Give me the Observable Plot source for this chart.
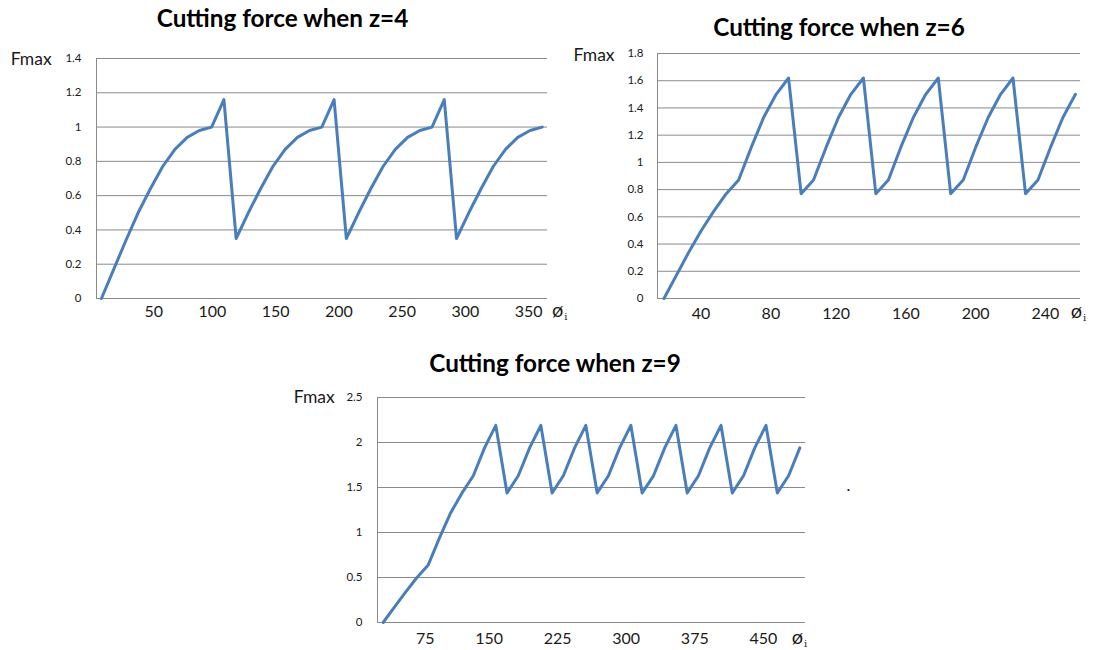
<!DOCTYPE html>
<html><head><meta charset="utf-8">
<script src="https://cdn.jsdelivr.net/npm/d3@7"></script>
<script src="https://cdn.jsdelivr.net/npm/@observablehq/plot@0.6"></script>
<style>
html,body{margin:0;padding:0;background:#fff;}
#root{position:relative;width:1094px;height:650px;overflow:hidden;font-family:Lato,"Open Sans",sans-serif;}
#root svg{position:absolute;}
.t{position:absolute;white-space:nowrap;line-height:1;}
.title{font-weight:bold;font-size:24.3px;color:#000;transform:translate(-50%,-50%);}
.fmax{font-size:17.5px;color:#1a1a1a;transform:translate(0,-50%);}
.phi{font-size:20px;color:#1a1a1a;transform:translate(0,-50%);}
.phi sub{font-family:"DejaVu Serif","Liberation Serif",serif;font-size:10px;vertical-align:-3px;margin-left:1px;}
</style></head><body><div id="root"></div>
<script>
// ---- data (x in axis units, F = Fmax) ----
const z4Phi = [1.3, 11.0, 20.7, 30.3, 40.0, 49.7, 59.4, 69.1, 78.7, 88.4, 98.1, 107.8, 117.4, 127.1, 136.8, 146.5, 156.2, 165.8, 175.5, 185.2, 194.9, 204.6, 214.2, 223.9, 233.6, 243.3, 253.0, 262.6, 272.3, 282.0, 291.7, 301.4, 311.0, 320.7, 330.4, 340.1, 349.7];
const z4F = [0, 0.17, 0.34, 0.5, 0.64, 0.77, 0.87, 0.94, 0.98, 1.0, 1.16,
  0.35, 0.5, 0.64, 0.77, 0.87, 0.94, 0.98, 1.0, 1.16,
  0.35, 0.5, 0.64, 0.77, 0.87, 0.94, 0.98, 1.0, 1.16,
  0.35, 0.5, 0.64, 0.77, 0.87, 0.94, 0.98, 1.0];
const z4XTicks = [50, 100, 150, 200, 250, 300, 350];
const z4YTicks = [0, 0.2, 0.4, 0.6, 0.8, 1, 1.2, 1.4];

const z6Phi = [13.4, 20.5, 27.6, 34.8, 41.9, 49.1, 56.2, 63.4, 70.5, 77.7, 84.8, 92.0, 99.1, 106.3, 113.4, 120.5, 127.7, 134.8, 142.0, 149.1, 156.3, 163.4, 170.6, 177.7, 184.9, 192.0, 199.2, 206.3, 213.4, 220.6, 227.7, 234.9, 242.0, 249.2];
const z6F = [0, 0.17, 0.34, 0.5, 0.64, 0.77, 0.87, 1.11, 1.33, 1.5, 1.62,
  0.77, 0.87, 1.11, 1.33, 1.5, 1.62,
  0.77, 0.87, 1.11, 1.33, 1.5, 1.62,
  0.77, 0.87, 1.11, 1.33, 1.5, 1.62,
  0.77, 0.87, 1.11, 1.33, 1.5];
const z6XTicks = [40, 80, 120, 160, 200, 240];
const z6YTicks = [0, 0.2, 0.4, 0.6, 0.8, 1, 1.2, 1.4, 1.6, 1.8];

const z9Phi = [18.9, 31.2, 43.6, 55.9, 68.2, 80.5, 92.8, 105.2, 117.5, 129.8, 142.1, 154.4, 166.7, 179.1, 191.4, 203.7, 216.0, 228.3, 240.6, 253.0, 265.3, 277.6, 289.9, 302.2, 314.6, 326.9, 339.2, 351.5, 363.8, 376.1, 388.5, 400.8, 413.1, 425.4, 437.7, 450.1, 462.4, 474.7];
const z9F = [0, 0.17, 0.34, 0.5, 0.64, 0.94, 1.22, 1.44, 1.63, 1.94, 2.19,
  1.44, 1.63, 1.94, 2.19,
  1.44, 1.63, 1.94, 2.19,
  1.44, 1.63, 1.94, 2.19,
  1.44, 1.63, 1.94, 2.19,
  1.44, 1.63, 1.94, 2.19,
  1.44, 1.63, 1.94, 2.19,
  1.44, 1.63, 1.94];
const z9XTicks = [75, 150, 225, 300, 375, 450];
const z9YTicks = [0, 0.5, 1, 1.5, 2, 2.5];

const titles = ["Cutting force when z=4", "Cutting force when z=6", "Cutting force when z=9"];
const yLabel = "Fmax";
const xLabel = "ø";
const xLabelSub = "i";

const LINE = "#4A7EBB", GRID = "#8a8a8a";

function chart(c) {
  const data = c.phi.map((x, i) => ({x, y: c.F[i]}));
  const svg = Plot.plot({
    width: c.w, height: c.h,
    marginLeft: c.ml, marginRight: c.mr, marginTop: c.mt, marginBottom: c.mb,
    x: {domain: c.xDomain},
    y: {domain: c.yDomain},
    style: {fontFamily: "Lato, 'Open Sans', sans-serif", background: "transparent", overflow: "visible"},
    marks: [
      Plot.gridY(c.yTicks, {stroke: GRID, strokeOpacity: 1, strokeWidth: 1}),
      Plot.ruleX([c.xDomain[0]], {stroke: GRID, strokeWidth: 1}),
      Plot.axisY(c.yTicks, {tickSize: 0, tickPadding: c.yPad, fontSize: 11.5, fill: "#1a1a1a", tickFormat: d => String(d), label: null}),
      Plot.axisX(c.xTicks, {tickSize: 0, tickPadding: c.xPad, fontSize: 16, fill: "#1a1a1a", textAnchor: "end", tickFormat: d => String(d), label: null}),
      Plot.line(data, {x: "x", y: "y", stroke: LINE, strokeWidth: 3, strokeLinejoin: "round", strokeLinecap: "round"})
    ]
  });
  svg.style.left = c.left + "px";
  svg.style.top = c.top + "px";
  return svg;
}

const root = document.getElementById("root");
function addText(cls, html, x, y) {
  const d = document.createElement("div");
  d.className = "t " + cls;
  d.innerHTML = html;
  d.style.left = x + "px";
  d.style.top = y + "px";
  root.appendChild(d);
}

root.appendChild(chart({phi: z4Phi, F: z4F, xTicks: z4XTicks, yTicks: z4YTicks,
  xDomain: [-2.6, 353.9], yDomain: [0, 1.4], left: 0, top: 0, w: 600, h: 330,
  ml: 96, mr: 53, mt: 58, mb: 32, xPad: 7, yPad: 15}));
root.appendChild(chart({phi: z6Phi, F: z6F, xTicks: z6XTicks, yTicks: z6YTicks,
  xDomain: [9.7, 252.1], yDomain: [0, 1.8], left: 560, top: 0, w: 534, h: 330,
  ml: 97, mr: 14, mt: 53, mb: 32, xPad: 9, yPad: 14}));
root.appendChild(chart({phi: z9Phi, F: z9F, xTicks: z9XTicks, yTicks: z9YTicks,
  xDomain: [12.7, 480.9], yDomain: [0, 2.5], left: 280, top: 340, w: 540, h: 310,
  ml: 97, mr: 15, mt: 57, mb: 28, xPad: 10, yPad: 15}));

addText("title", titles[0], 282.5, 18);
addText("title", titles[1], 839, 27);
addText("title", titles[2], 555, 363);
addText("fmax", yLabel, 10.7, 59);
addText("fmax", yLabel, 573.6, 55);
addText("fmax", yLabel, 293.8, 397);
const phiHtml = xLabel + "<sub>" + xLabelSub + "</sub>";
addText("phi", phiHtml, 552, 310);
addText("phi", phiHtml, 1070.7, 311);
addText("phi", phiHtml, 791.7, 637);
addText("", ".", 846.6, 477);
</script></body></html>
